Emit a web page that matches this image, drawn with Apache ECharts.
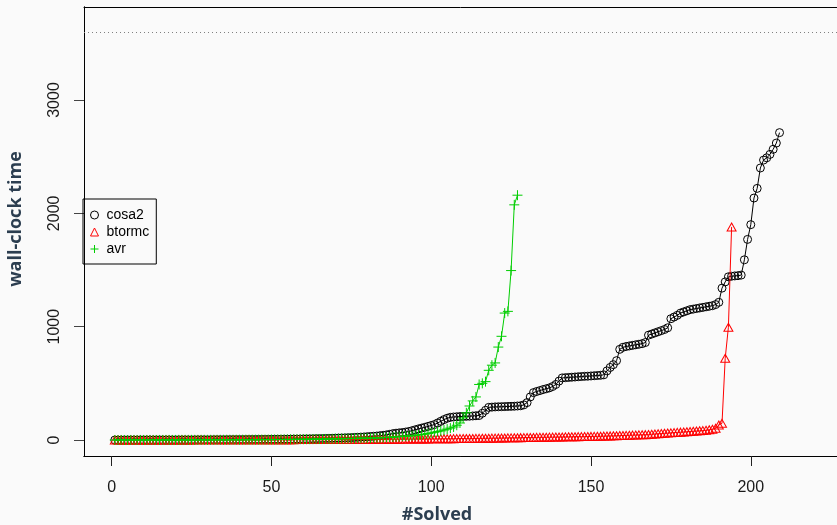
<!DOCTYPE html>
<html>
<head>
<meta charset="utf-8">
<script src="https://cdn.jsdelivr.net/npm/echarts@6/dist/echarts.min.js"></script>
<style>
html,body{margin:0;padding:0;background:#fafafa;}
#chart{width:837px;height:525px;}
</style>
</head>
<body>
<div id="chart"></div>
<script>
// ---- data ----
const seriesNames = ['cosa2', 'btormc', 'avr'];
const xTicks = [0, 50, 100, 150, 200];
const yTicks = [0, 1000, 2000, 3000];
const timeoutLimit = 3600;

const cosa2 = [0.1,0.1,0.2,0.2,0.2,0.3,0.3,0.3,0.4,0.4,0.5,0.5,0.6,0.6,0.7,0.7,0.8,0.9,0.9,1.0,
1.1,1.2,1.2,1.3,1.4,1.5,1.6,1.7,1.8,1.9,2.0,2.1,2.2,2.4,2.5,2.6,2.8,3.0,3.1,3.3,
3.5,3.7,3.9,4.1,4.3,4.5,4.8,5.0,5.3,5.6,5.9,6.2,6.5,6.9,7.2,7.6,8.0,8.4,8.9,9.4,
9.9,10.4,11,11.6,12.2,12.9,13.6,14.3,15.1,16,17,18,19,20,21,22.5,24,25.5,27,29,
31,33,35,38,41,45,50,56,60,63,66,70,75,82,90,98,105,112,120,128,
136,150,165,180,192,200,203,205,207,208,209,210,212,214,216,236,262,288,290,292,
293,294,295,296,297,298,300,302,310,330,
380,418,428,436,445,452,460,472,490,520,
548,550,552,554,556,558,560,562,563,565,567,569,571,575,
610,640,665,700,
800,818,825,830,835,840,845,850,860,
925,935,945,955,965,975,990,
1070,1085,1100,1120,1130,1140,1150,1155,1160,1165,1170,1175,1180,1185,1195,
1215,1340,1395,1440,1445,1448,1450,1455,
1590,1770,1900,2135,2220,2400,2470,2490,2520,2565,2620,2712];

const btormc = [0.1,0.1,0.1,0.2,0.2,0.2,0.2,0.3,0.3,0.3,0.3,0.4,0.4,0.4,0.5,0.5,0.5,0.6,0.6,0.6,
0.7,0.7,0.8,0.8,0.8,0.9,0.9,1.0,1.0,1.1,1.1,1.2,1.2,1.3,1.3,1.4,1.4,1.5,1.6,1.6,
1.7,1.8,1.8,1.9,2.0,2.0,2.1,2.2,2.3,2.4,2.4,2.5,2.6,2.7,2.8,2.9,3.0,3.1,3.2,3.3,
3.4,3.5,3.6,3.7,3.8,3.9,4.0,4.1,4.2,4.3,4.4,4.5,4.7,4.8,4.9,5.0,5.2,5.3,5.5,5.6,
5.8,5.9,6.1,6.2,6.4,6.6,6.8,7.0,7.2,7.4,7.6,7.8,8.0,8.2,8.5,8.7,9.0,9.2,9.5,9.8,
10,10.3,10.6,10.9,11.2,11.5,11.8,12.1,12.4,12.8,13.1,13.5,13.8,14.2,14.6,15,15.4,15.8,16.2,16.7,
17.1,17.6,18,18.5,19,19.5,20,20.5,21,21.5,22,22.5,23,23.5,24,24.5,25,25.5,26,26.5,
27,27.5,28,28.5,29,29.5,30,30.5,31,31.5,32,32.5,33,34,35,36,37,38,39,40,
41,42,43,44,45,46,47,49,51,53,55,57,59,61,63,65,67,69,71,73,
75,77,79,81,83,86,90,95,
103,132,147,721,995,1880];

const avr = [0.1,0.1,0.2,0.2,0.2,0.3,0.3,0.3,0.4,0.4,0.4,0.5,0.5,0.5,0.6,0.6,0.7,0.7,0.8,0.8,
0.9,0.9,1.0,1.0,1.1,1.2,1.2,1.3,1.4,1.4,1.5,1.6,1.7,1.8,1.9,2.0,2.1,2.2,2.3,2.4,
2.5,2.6,2.8,2.9,3.0,3.2,3.3,3.5,3.7,3.9,4.1,4.3,4.5,4.7,5.0,5.2,5.5,5.8,6.1,6.4,
6.7,7.0,7.4,7.8,8.2,8.6,9.0,9.5,10,10.5,11,11.6,12.2,12.8,13.5,14.2,15,15.5,16,16.5,
17,18,19,20,21,22.5,24,26,28,30,32,34,36,38,41,44,48,52,57,62,
68,74,80,88,96,105,115,
130,150,195,240,300,345,380,490,500,515,615,660,680,820,915,1120,1135,1495,2075,2160];

// ---- build ----
const toPairs = arr => arr.map((v, i) => [i + 1, v]);
const plusPath = 'path://M0,5L10,5M5,0L5,10';
const colBlack = '#000000', colRed = '#ff0000', colGreen = '#00cd00';
const tickFont = '"Liberation Sans", Arial, sans-serif';
const titleFont = '"Open Sans", "DejaVu Sans", sans-serif';
const plainNum = v => String(v);
const xMin = -8.64, xMax = 226.98, yMin = -141.2, yMax = 3820.6;

const chart = echarts.init(document.getElementById('chart'));
const option = {
  animation: false,
  grid: {left: 84, right: 0, top: 7, bottom: 69, show: false},
  xAxis: [{
    // labels of the x axis
    type: 'value', min: xMin, max: xMax, position: 'bottom',
    axisLine: {show: true, onZero: false, lineStyle: {color: '#000', width: 1}},
    splitLine: {show: false},
    axisTick: {show: false},
    axisLabel: {customValues: xTicks, formatter: plainNum, margin: 24, fontSize: 16, fontFamily: tickFont, color: '#1a1a1a'}
  }, {
    // top frame line of the plot box
    type: 'value', min: xMin, max: xMax, position: 'top',
    axisLine: {show: true, onZero: false, lineStyle: {color: '#000', width: 1}},
    axisTick: {show: false}, axisLabel: {show: false}, splitLine: {show: false}
  }, {
    // tick marks of the x axis
    type: 'value', min: xMin, max: xMax, position: 'bottom',
    axisLine: {show: true, onZero: false, lineStyle: {color: '#000', width: 1}},
    axisTick: {show: true, length: 10, customValues: xTicks, lineStyle: {color: '#222', width: 1}},
    axisLabel: {show: false}, splitLine: {show: false}
  }],
  yAxis: [{
    // labels of the y axis
    type: 'value', min: yMin, max: yMax, position: 'left',
    axisLine: {show: true, onZero: false, lineStyle: {color: '#000', width: 1}},
    splitLine: {show: false},
    axisTick: {show: false},
    axisLabel: {customValues: yTicks, formatter: plainNum, rotate: 90, margin: 21, fontSize: 16, fontFamily: tickFont, color: '#1a1a1a'}
  }, {
    // tick marks of the y axis
    type: 'value', min: yMin, max: yMax, position: 'left',
    axisLine: {show: true, onZero: false, lineStyle: {color: '#000', width: 1}},
    axisTick: {show: true, length: 10, customValues: yTicks, lineStyle: {color: '#444', width: 1}},
    axisLabel: {show: false}, splitLine: {show: false}
  }],
  legend: {
    orient: 'vertical', left: 83, top: 199,
    padding: [9, 7, 8, 7],
    itemWidth: 8, itemHeight: 8, itemGap: 3,
    borderColor: '#000', borderWidth: 1, borderRadius: 0,
    textStyle: {fontSize: 14, lineHeight: 14, fontFamily: tickFont, color: '#000', padding: [0, 0, 0, 3]},
    data: [
      {name: seriesNames[0], icon: 'circle', itemStyle: {color: 'transparent', borderColor: colBlack, borderWidth: 1}},
      {name: seriesNames[1], icon: 'triangle', itemStyle: {color: 'transparent', borderColor: colRed, borderWidth: 1}},
      {name: seriesNames[2], icon: plusPath, itemStyle: {color: 'transparent', borderColor: colGreen, borderWidth: 1}}
    ]
  },
  graphic: [
    {type: 'text', x: 437, y: 515, style: {text: '#Solved', font: 'bold 18px ' + titleFont, fill: '#2c3e50', textAlign: 'center', textVerticalAlign: 'middle'}},
    {type: 'text', x: 16, y: 219, rotation: Math.PI / 2, style: {text: 'wall-clock time', font: 'bold 18px ' + titleFont, fill: '#2c3e50', textAlign: 'center', textVerticalAlign: 'middle'}}
  ],
  series: [
    {
      name: seriesNames[0], type: 'line', data: toPairs(cosa2), xAxisIndex: 0, yAxisIndex: 0,
      symbol: 'circle', symbolSize: 8, showAllSymbol: true,
      itemStyle: {color: 'transparent', borderColor: colBlack, borderWidth: 1},
      lineStyle: {color: colBlack, width: 1},
      markLine: {
        silent: true, symbol: ['none', 'none'], label: {show: false},
        lineStyle: {color: '#808080', width: 1, type: [1, 3]},
        data: [{yAxis: timeoutLimit}]
      },
      z: 2
    },
    {
      name: seriesNames[1], type: 'line', data: toPairs(btormc), xAxisIndex: 0, yAxisIndex: 0,
      symbol: 'triangle', symbolSize: [9, 8], showAllSymbol: true,
      itemStyle: {color: 'transparent', borderColor: colRed, borderWidth: 1},
      lineStyle: {color: colRed, width: 1},
      z: 3
    },
    {
      name: seriesNames[2], type: 'line', data: toPairs(avr), xAxisIndex: 0, yAxisIndex: 0,
      symbol: plusPath, symbolSize: 10, showAllSymbol: true,
      itemStyle: {color: 'transparent', borderColor: colGreen, borderWidth: 1},
      lineStyle: {color: colGreen, width: 1},
      z: 4
    }
  ]
};
chart.setOption(option);
</script>
</body>
</html>
